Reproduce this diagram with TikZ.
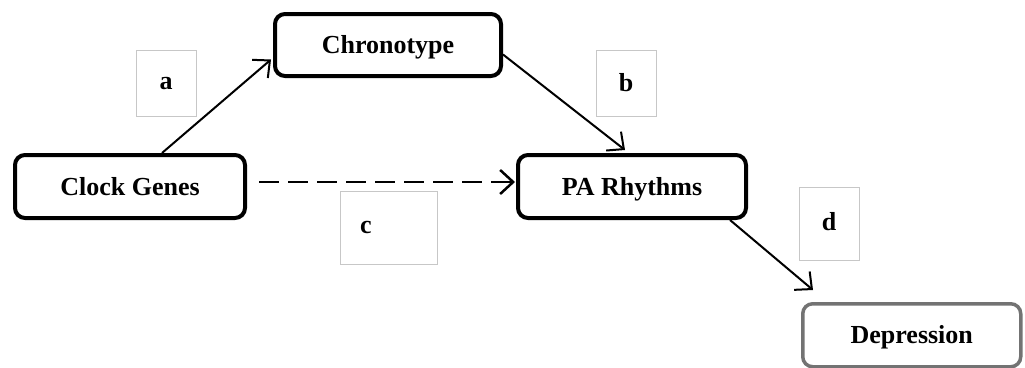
\documentclass[tikz,border=0pt]{standalone}
\usepackage{fontspec}
\setmainfont{Liberation Serif}
\usetikzlibrary{
  arrows.meta,
  positioning,
  calc,
}

\begin{document}
\begin{tikzpicture}[
  x=1pt, y=1pt,
  every node/.style={font=\fontsize{26pt}{30pt}\selectfont\bfseries},
  varbox/.style={
    rectangle, draw, line width=4pt, rounded corners=10pt,
    minimum height=63pt, text height=17pt, text depth=0pt,
  },
  outbox/.style={varbox, draw=black!55, line width=3.5pt},
  tag/.style={
    rectangle, draw=black!22, line width=1pt,
    minimum width=60pt, minimum height=66pt,
  },
  arrow/.style={-{Straight Barb[length=13pt, width=24pt]}, line width=2pt},
]
  \useasboundingbox (0,0) rectangle (1025,-367);

  % Variable boxes
  \node[varbox, minimum width=230pt] (clock) at (130,-186.5) {Clock Genes};
  \node[varbox, minimum width=226pt, minimum height=62pt, above right=75pt and 26pt of clock] (chrono) {Chronotype};
  \node[varbox, minimum width=228pt, right=269pt of clock] (pa) {PA Rhythms};
  \node[outbox, minimum width=218pt, below right=82pt and 53pt of pa] (dep) {Depression};

  % Path labels
  \node[tag, text height=12pt, text depth=0pt] (la) at (166,-83) {a};
  \node[tag] (lb) at (626,-83) {b};
  \node[tag, minimum width=97pt, minimum height=73pt,
        text width=57pt, align=left, inner xsep=20pt] (lc) at (388.5,-227.5) {c};
  \node[tag, minimum height=73pt, yshift=0pt] (ld) at (829,-223.5) {\raisebox{5pt}{d}};

  % Arrows
  \draw[arrow] ($(clock.north)+(32,0)$) -- ($(chrono.west)+(-2,-14.5)$);
  \draw[arrow] ($(chrono.east)+(0,-9.5)$) -- ($(pa.north)+(-7,3)$);
  \draw[arrow, line width=2.5pt, dash pattern=on 20pt off 9pt] ($(clock.east)+(12,4.5)$) -- ($(pa.west)+(-1,4.5)$);
  \draw[arrow] ($(pa.south)+(98,0)$) -- ($(dep.north west)+(12,12)$);

\end{tikzpicture}
\end{document}
